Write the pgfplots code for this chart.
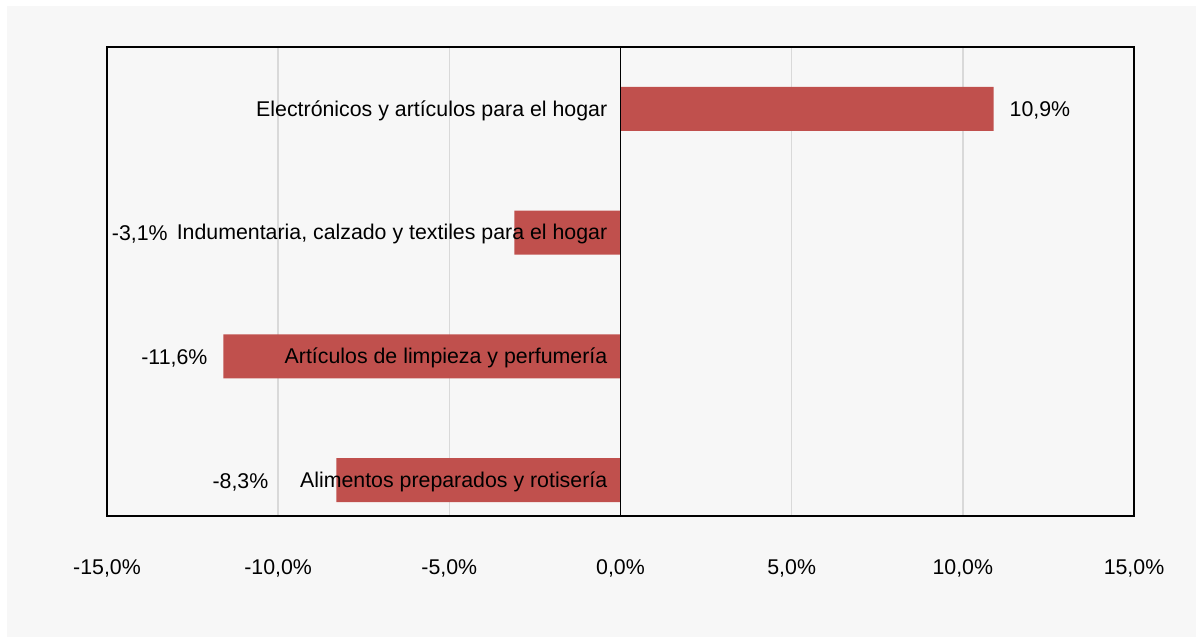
\documentclass[border=0pt]{standalone}
\usepackage{fontspec}
\setmainfont{Liberation Sans}
\usepackage{pgfplots}
\pgfplotsset{compat=1.18}
\definecolor{barred}{HTML}{C0504D}
\definecolor{panel}{HTML}{F7F7F7}
\definecolor{gridgray}{HTML}{D9D9D9}
\pgfplotstableread{
y val
0 -8.3
1 -11.6
2 -3.1
3 10.9
}\datatable
\begin{document}
\begin{tikzpicture}
\fill[white] (0pt,0pt) rectangle (902.25pt,481.5pt);
\fill[panel] (5.25pt,3.75pt) rectangle (897pt,477pt);
\begin{axis}[
  at={(80.25pt,94.5pt)}, anchor=south west,
  scale only axis, width=770.25pt, height=351.75pt,
  xmin=-15, xmax=15, ymin=-0.29, ymax=3.5,
  xbar, bar width=33pt,
  axis line style={black, line width=1.1pt},
  axis background/.style={fill=panel},
  xtick={-15,-10,-5,0,5,10,15},
  xticklabels={{-15,0\%},{-10,0\%},{-5,0\%},{0,0\%},{5,0\%},{10,0\%},{15,0\%}},
  xmajorgrids, grid style={gridgray, line width=1.2pt},
  major tick length=0pt,
  ytick=\empty,
  tick label style={font=\fontsize{16}{19}\selectfont},
  xticklabel style={yshift=-29pt},
  clip=false,
]
\addplot[fill=barred, draw=none] table[x=val, y=y] {\datatable};
\draw[black, line width=1.1pt] (axis cs:0,-0.29) -- (axis cs:0,3.5);
\begin{scope}[every node/.style={font=\fontsize{16}{19}\selectfont, inner sep=0pt}]
\node[anchor=east] at (axis cs:-0.38,2.985) {Electrónicos y artículos para el hogar};
\node[anchor=east] at (axis cs:-0.38,1.985) {Indumentaria, calzado y textiles para el hogar};
\node[anchor=east] at (axis cs:-0.38,0.985) {Artículos de limpieza y perfumería};
\node[anchor=east] at (axis cs:-0.38,-0.015) {Alimentos preparados y rotisería};
\node[anchor=west] at (axis cs:11.36,2.985) {10,9\%};
\node[anchor=east] at (axis cs:-13.22,1.985) {-3,1\%};
\node[anchor=east] at (axis cs:-12.06,0.985) {-11,6\%};
\node[anchor=east] at (axis cs:-10.28,-0.015) {-8,3\%};
\end{scope}
\end{axis}
\end{tikzpicture}
\end{document}
